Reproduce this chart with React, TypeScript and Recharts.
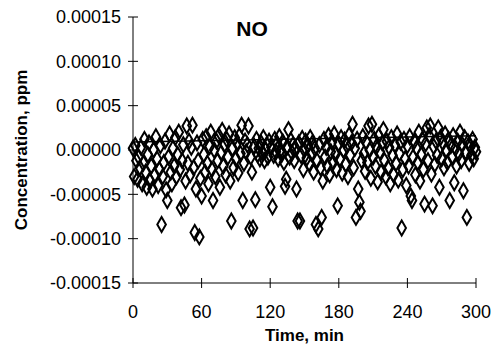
import React from 'react';
import { ScatterChart, Scatter, XAxis, YAxis, ZAxis } from 'recharts';

// NO concentration, in 1e-6 ppm, one reading per minute (t = 0..300)
const conc0to59 = [
    2, -30, 5, -12, -33, -8, -20, 3, -38, -15,
    12, -25, -42, -5, 8, -35, -18, -44, 0, -28,
    15, -10, -40, -22, 5, -84, -30, -14, 10, -45,
    -57, -8, 18, -25, -38, 2, -18, 14, -30, -5,
    20, -22, -65, -12, 6, -62, -35, 27, -15, 10,
    -28, 3, 28, -20, -93, -44, 8, -12, -98, -32,
];
const conc60to119 = [
    -52, 12, -5, -25, 15, -15, -38, 4, 20, -22,
    -57, 0, -30, 10, -12, 16, -42, -3, 22, -18,
    6, -28, 12, -8, 18, -35, -80, 2, -20, 14,
    -10, 8, -26, 16, -4, 28, -57, -15, 10, -2,
    6, 27, -89, -8, -25, -88, 4, -56, 12, -5,
    2, -10, 8, -3, 14, -12, 0, 6, -8, 10,
];
const conc120to179 = [
    -42, 3, -64, -6, 12, -2, 7, -10, 15, 0,
    -5, 9, -14, -41, -33, 4, 23, -8, 11, -3,
    6, -12, 2, -44, -80, 8, -80, -6, 13, -22,
    0, 10, -9, 5, -15, 14, -4, 8, -25, 2,
    -84, -12, -89, 6, -20, -76, -35, 12, -8, 3,
    -18, 16, -28, -2, 9, -14, 18, -5, -22, -63,
];
const conc180to239 = [
    7, -10, 14, -26, 0, 11, -16, 5, -30, 17,
    -6, 8, 29, -20, 2, -76, 12, -44, -59, -69,
    -12, 15, -4, -24, 9, -14, 27, 0, -32, 29,
    -8, 12, -18, 4, -36, 16, -2, -25, 8, 23,
    -12, -30, 10, -20, 3, -38, 14, -6, -28, 6,
    -15, 18, -34, -4, 9, -88, -22, 12, -10, -40,
];
const conc240to300 = [
    5, -18, 15, -52, -57, -8, 10, -28, 2, -14,
    20, -35, -5, 12, -22, -61, 7, 25, -12, 16,
    27, -27, -63, 4, -16, 10, -6, 25, -42, 14,
    -10, 8, -20, 18, 0, -14, 12, -57, 5, -8,
    16, -37, 2, -18, 10, -4, 20, -12, 6, -46,
    14, -2, -76, 9, -15, 4, -6, 12, -10, 3, -2,
];

const lineTimes = [0, 300];
const lineConc = [9, 16];

const xTicks = [0, 60, 120, 180, 240, 300];
const yTicks = [-0.00015, -0.0001, -0.00005, 0, 0.00005, 0.0001, 0.00015];

const concentration = [...conc0to59, ...conc60to119, ...conc120to179, ...conc180to239, ...conc240to300];
const points = concentration.map((c, i) => ({ t: i, v: c * 1e-6 }));
const trend = lineTimes.map((t, i) => ({ t, v: lineConc[i] * 1e-6 }));

const FONT = '"Liberation Sans", Arial, sans-serif';

const YTick = (props: any) => {
    const { x, y, payload } = props;
    return (
        <g>
            <line x1={x - 5} x2={x + 5} y1={y} y2={y} stroke="#000" />
            <text x={x - 12} y={y} dy="0.35em" textAnchor="end" fontSize={18} fontFamily={FONT} fill="#000">
                {payload.value.toFixed(5)}
            </text>
        </g>
    );
};

const XTick = (props: any) => {
    const { x, y, payload } = props;
    return (
        <g>
            <line x1={x} x2={x} y1={y - 5} y2={y + 5} stroke="#000" />
            <text x={x} y={y + 35} textAnchor="middle" fontSize={18} fontFamily={FONT} fill="#000">
                {payload.value}
            </text>
        </g>
    );
};

const App = () => {
    return (
        <div style={{ position: 'absolute', left: 0, top: 0, width: 496, height: 349, background: '#fff' }}>
            <ScatterChart width={496} height={349} margin={{ top: 17, right: 20, bottom: 16, left: 0 }}>
                <XAxis
                    type="number"
                    dataKey="t"
                    domain={[0, 300]}
                    ticks={xTicks}
                    height={50}
                    axisLine={{ stroke: '#000' }}
                    tickLine={false}
                    tickSize={0}
                    tickMargin={0}
                    tick={<XTick />}
                    label={{
                        content: (p: any) => (
                            <text
                                x={p.viewBox.x + p.viewBox.width / 2}
                                y={341}
                                textAnchor="middle"
                                fontSize={17}
                                fontWeight="bold"
                                fontFamily={FONT}
                            >
                                Time, min
                            </text>
                        ),
                    }}
                />
                <YAxis
                    type="number"
                    dataKey="v"
                    domain={[-0.00015, 0.00015]}
                    ticks={yTicks}
                    width={133}
                    axisLine={{ stroke: '#000' }}
                    tickLine={false}
                    tickSize={0}
                    tickMargin={0}
                    tick={<YTick />}
                    label={{
                        content: (p: any) => {
                            const cy = p.viewBox.y + p.viewBox.height / 2;
                            return (
                                <text
                                    x={27}
                                    y={cy}
                                    transform={`rotate(-90 27 ${cy})`}
                                    textAnchor="middle"
                                    fontSize={17}
                                    fontWeight="bold"
                                    fontFamily={FONT}
                                >
                                    Concentration, ppm
                                </text>
                            );
                        },
                    }}
                />
                <ZAxis range={[52, 52]} />
                <Scatter
                    data={points}
                    shape="diamond"
                    fill="none"
                    stroke="#000"
                    strokeWidth={2}
                    isAnimationActive={false}
                />
                <Scatter
                    data={trend}
                    line={{ stroke: '#000', strokeWidth: 1.5 }}
                    shape={() => <g />}
                    isAnimationActive={false}
                />
            </ScatterChart>
            <div
                style={{
                    position: 'absolute',
                    left: 252,
                    top: 17,
                    transform: 'translateX(-50%)',
                    fontFamily: FONT,
                    fontWeight: 'bold',
                    fontSize: 21,
                    lineHeight: '24px',
                }}
            >
                NO
            </div>
        </div>
    );
};

export default App;
